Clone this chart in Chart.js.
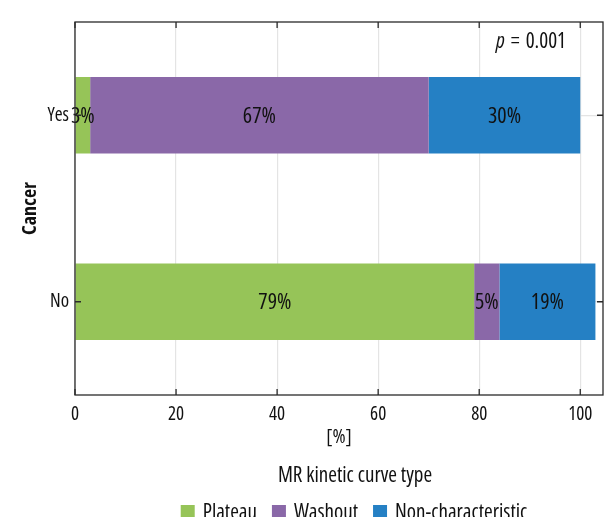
<!DOCTYPE html>
<html>
<head>
<meta charset="utf-8">
<script src="https://cdn.jsdelivr.net/npm/chart.js@4.4.1/dist/chart.umd.min.js"></script>
<style>
  html, body { margin: 0; padding: 0; background: #fff; }
  #wrap { width: 604px; height: 517px; position: relative; }
</style>
</head>
<body>
<div id="wrap"><canvas id="c"></canvas></div>
<script>
// Categories and series (percent of lesions per curve type)
const categories = ['Yes', 'No'];
const plateau = [3, 79];
const washout = [67, 5];
const nonCharacteristic = [30, 19];
const xTicks = [0, 20, 40, 60, 80, 100];
const seriesNames = ['Plateau', 'Washout', 'Non-characteristic'];
const seriesColors = ['#96c458', '#8a68a8', '#2580c4'];
const legendTitle = 'MR kinetic curve type';
const pValue = '0.001';

// Narrow sans: Open Sans with its width axis pulled in
const FAMILY = "'Open Sans', 'Roboto', sans-serif";
const W = 'condensed';            // goes into the font shorthand as font-stretch
const font = (size, bold, italic) =>
  (italic ? 'italic ' : '') + (bold ? 'bold ' : '') + W + ' ' + size + 'px ' + FAMILY;
const AXIS_COLOR = '#2a2a2a';
const TEXT = '#111';

function setFont(ctx, size, bold, italic) {
  ctx.font = font(size, bold, italic);
  if ('fontStretch' in ctx) ctx.fontStretch = W;
}

// Segment labels centred inside each stacked bar piece
const segmentLabels = {
  id: 'segmentLabels',
  afterDatasetsDraw(chart) {
    const ctx = chart.ctx;
    ctx.save();
    setFont(ctx, 22);
    ctx.fillStyle = TEXT;
    ctx.textAlign = 'center';
    ctx.textBaseline = 'middle';
    chart.data.datasets.forEach((ds, di) => {
      chart.getDatasetMeta(di).data.forEach((bar, i) => {
        const cx = (bar.x + bar.base) / 2;
        ctx.fillText(ds.data[i] + '%', cx, bar.y + 1);
      });
    });
    ctx.restore();
  }
};

// Box frame with inward tick marks, p-value note and legend
const frame = {
  id: 'frame',
  afterDraw(chart) {
    const ctx = chart.ctx;
    const a = chart.chartArea;
    const xs = chart.scales.x, ys = chart.scales.y;
    ctx.save();
    ctx.strokeStyle = AXIS_COLOR;
    ctx.lineWidth = 1.3;
    ctx.strokeRect(a.left, a.top, a.right - a.left, a.bottom - a.top);
    const len = 6;
    ctx.beginPath();
    xTicks.forEach(v => {
      const px = xs.getPixelForValue(v);
      ctx.moveTo(px, a.bottom); ctx.lineTo(px, a.bottom - len);
      ctx.moveTo(px, a.top); ctx.lineTo(px, a.top + len);
    });
    categories.forEach((c, i) => {
      const py = ys.getPixelForValue(i);
      ctx.moveTo(a.left, py); ctx.lineTo(a.left + len, py);
      ctx.moveTo(a.right, py); ctx.lineTo(a.right - len, py);
    });
    ctx.stroke();

    // p-value annotation, right edge near x = 566
    ctx.fillStyle = TEXT;
    ctx.textBaseline = 'alphabetic';
    ctx.textAlign = 'left';
    const base = 48;
    setFont(ctx, 21, false, true);
    const wp = ctx.measureText('p').width;
    setFont(ctx, 21);
    const weq = ctx.measureText('=').width;
    const wv = ctx.measureText(pValue).width;
    const gap = 6;
    let x = 566 - (wp + gap + weq + gap + wv);
    setFont(ctx, 21, false, true);
    ctx.fillText('p', x, base);
    x += wp + gap;
    setFont(ctx, 21);
    ctx.fillText('=', x, base);
    x += weq + gap;
    ctx.fillText(pValue, x, base);

    // legend
    setFont(ctx, 21);
    ctx.textAlign = 'center';
    ctx.textBaseline = 'middle';
    ctx.fillText(legendTitle, 355, 476);
    const box = 14, gapBox = 8, gapItem = 15;
    const widths = seriesNames.map(n => box + gapBox + ctx.measureText(n).width);
    const total = widths.reduce((s, w) => s + w, 0) + gapItem * (seriesNames.length - 1);
    let lx = 354 - total / 2;
    const ly = 512;
    ctx.textAlign = 'left';
    seriesNames.forEach((n, i) => {
      ctx.fillStyle = seriesColors[i];
      ctx.fillRect(lx, ly - 7, box, box + 6);
      ctx.fillStyle = TEXT;
      ctx.fillText(n, lx + box + gapBox, ly + 1);
      lx += widths[i] + gapItem;
    });
    ctx.restore();
  }
};

const datasets = [plateau, washout, nonCharacteristic].map((d, i) => ({
  label: seriesNames[i],
  data: d,
  backgroundColor: seriesColors[i],
  borderWidth: 0,
  barPercentage: 0.41,
  categoryPercentage: 1.0
}));

const tickFont = { family: FAMILY, size: 19, weight: 'normal ' + W };

new Chart(document.getElementById('c'), {
  type: 'bar',
  data: { labels: categories, datasets },
  plugins: [segmentLabels, frame],
  options: {
    indexAxis: 'y',
    responsive: true,
    maintainAspectRatio: false,
    animation: false,
    layout: { padding: { top: 22, right: 1, left: 0, bottom: 0 } },
    plugins: { legend: { display: false }, tooltip: { enabled: false } },
    scales: {
      x: {
        stacked: true,
        min: 0,
        max: 104.5,
        afterBuildTicks(scale) { scale.ticks = xTicks.map(v => ({ value: v })); },
        afterFit(scale) { scale.height = 122; },
        grid: { color: '#e4e4e4', lineWidth: 1.2, drawTicks: false },
        border: { display: false },
        ticks: { color: TEXT, font: tickFont, padding: 8, maxRotation: 0 },
        title: {
          display: true, text: '[%]', color: TEXT,
          font: { family: FAMILY, size: 20, weight: 'normal ' + W },
          padding: { top: 0, bottom: 68 }
        }
      },
      y: {
        stacked: true,
        offset: true,
        afterFit(scale) { scale.width = 75; },
        grid: { color: '#e4e4e4', lineWidth: 1.2, drawTicks: false, offset: false },
        border: { display: false },
        ticks: { color: TEXT, font: tickFont, padding: 6 },
        title: {
          display: true, text: 'Cancer', color: TEXT,
          font: { family: FAMILY, size: 20, weight: 'bold ' + W },
          padding: { top: 18, bottom: 0 }
        }
      }
    }
  }
});
</script>
</body>
</html>
